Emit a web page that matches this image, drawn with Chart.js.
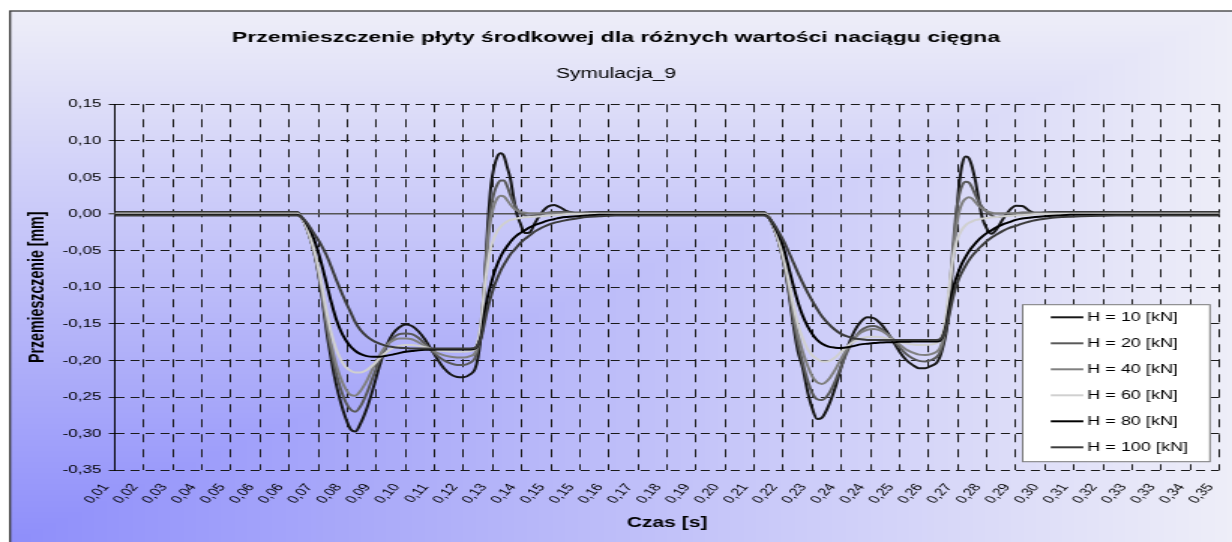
<!DOCTYPE html>
<html>
<head>
<meta charset="utf-8">
<script src="https://cdn.jsdelivr.net/npm/chart.js@4.4.1/dist/chart.umd.min.js"></script>
<style>
  html, body { margin: 0; padding: 0; background: #fff; }
  #myChart { display: block; width: 1232px !important; height: 542px !important; }
</style>
</head>
<body>
<!-- the original picture is a horizontally stretched Excel chart, so the canvas is drawn narrow and stretched by css -->
<canvas id="myChart" width="821" height="542" style="width:1232px;height:542px"></canvas>
<script>
const times = [
  0.010, 0.040, 0.060, 0.0665, 0.068, 0.0695, 0.071, 0.0725, 0.074, 0.0755,
  0.077, 0.0785, 0.080, 0.0815, 0.083, 0.0845, 0.086, 0.088, 0.090, 0.092,
  0.094, 0.096, 0.098, 0.100, 0.102, 0.104, 0.106, 0.108, 0.110, 0.112,
  0.114, 0.116, 0.118, 0.120, 0.1215, 0.1225, 0.1235, 0.1245, 0.1255, 0.1265,
  0.1275, 0.1285, 0.1295, 0.1305, 0.1315, 0.1325, 0.1335, 0.1345, 0.1355, 0.137,
  0.1385, 0.140, 0.142, 0.144, 0.146, 0.148, 0.150, 0.153, 0.156, 0.160,
  0.165, 0.175, 0.190, 0.203,
  0.211, 0.2125, 0.214, 0.2155, 0.217, 0.2185,
  0.220, 0.2215, 0.223, 0.2245, 0.226, 0.2275, 0.229, 0.231, 0.233, 0.235,
  0.237, 0.239, 0.241, 0.243, 0.245, 0.247, 0.249, 0.251, 0.253, 0.255,
  0.257, 0.259, 0.261, 0.263, 0.2645, 0.2655, 0.2665, 0.2675, 0.2685, 0.2695,
  0.2705, 0.2715, 0.2725, 0.2735, 0.2745, 0.2755, 0.2765, 0.2775, 0.2785, 0.280,
  0.2815, 0.283, 0.285, 0.287, 0.289, 0.291, 0.293, 0.295, 0.298, 0.302,
  0.306, 0.312, 0.320, 0.335, 0.352
]

const h10 = [
  0.003, 0.003, 0.003, 0.003, -0.006, -0.020, -0.040, -0.068, -0.108, -0.158,
  -0.198, -0.232, -0.258, -0.279, -0.294, -0.297, -0.287, -0.266, -0.238, -0.207,
  -0.181, -0.164, -0.155, -0.151, -0.153, -0.160, -0.171, -0.185, -0.199, -0.211,
  -0.219, -0.2225, -0.223, -0.219, -0.212, -0.195, -0.160, -0.095, -0.015, 0.040,
  0.065, 0.079, 0.083, 0.079, 0.064, 0.048, 0.022, 0.000, -0.012, -0.026,
  -0.025, -0.013, 0.001, 0.010, 0.0125, 0.009, 0.004, 0.001, 0.002, 0.003,
  0.003, 0.003, 0.003, 0.003,
  0.003, -0.004, -0.018, -0.037, -0.064, -0.101,
  -0.148, -0.187, -0.210, -0.242, -0.266, -0.280, -0.278, -0.262, -0.238, -0.208,
  -0.181, -0.160, -0.147, -0.141, -0.142, -0.149, -0.160, -0.174, -0.188, -0.199,
  -0.206, -0.2105, -0.2105, -0.207, -0.203, -0.195, -0.180, -0.160, -0.125, -0.065,
  -0.008, 0.042, 0.070, 0.0785, 0.076, 0.064, 0.045, 0.020, -0.003, -0.020,
  -0.027, -0.021, -0.007, 0.005, 0.0115, 0.011, 0.005, 0.001, 0.002, 0.003,
  0.003, 0.003, 0.003, 0.003, 0.003
]

const h20 = [
  0.002, 0.002, 0.002, 0.002, -0.006, -0.020, -0.040, -0.067, -0.105, -0.150,
  -0.187, -0.217, -0.240, -0.257, -0.267, -0.270, -0.263, -0.245, -0.222, -0.200,
  -0.182, -0.170, -0.164, -0.163, -0.164, -0.169, -0.177, -0.186, -0.194, -0.200,
  -0.204, -0.206, -0.206, -0.203, -0.197, -0.183, -0.150, -0.095, -0.030, 0.010,
  0.030, 0.041, 0.046, 0.046, 0.038, 0.026, 0.015, 0.007, 0.002, -0.002,
  -0.003, -0.002, 0.000, 0.002, 0.003, 0.003, 0.003, 0.002, 0.002, 0.002,
  0.002, 0.002, 0.002, 0.002,
  0.002, -0.004, -0.018, -0.037, -0.063, -0.098,
  -0.140, -0.176, -0.203, -0.227, -0.245, -0.253, -0.254, -0.246, -0.229, -0.207,
  -0.186, -0.170, -0.159, -0.154, -0.153, -0.156, -0.163, -0.172, -0.182, -0.191,
  -0.197, -0.2005, -0.2015, -0.199, -0.195, -0.189, -0.175, -0.150, -0.105, -0.048,
  0.000, 0.027, 0.040, 0.044, 0.043, 0.036, 0.026, 0.017, 0.010, 0.003,
  -0.002, -0.004, -0.003, -0.001, 0.001, 0.002, 0.002, 0.002, 0.002, 0.002,
  0.002, 0.002, 0.002, 0.002, 0.002
]

const h40 = [
  0.001, 0.001, 0.001, 0.001, -0.006, -0.020, -0.040, -0.066, -0.102, -0.143,
  -0.178, -0.205, -0.225, -0.239, -0.247, -0.248, -0.242, -0.228, -0.210, -0.193,
  -0.180, -0.173, -0.170, -0.170, -0.171, -0.175, -0.180, -0.185, -0.190, -0.193,
  -0.195, -0.196, -0.196, -0.194, -0.190, -0.176, -0.145, -0.095, -0.040, -0.005,
  0.013, 0.022, 0.025, 0.024, 0.019, 0.013, 0.008, 0.005, 0.003, 0.002,
  0.001, 0.001, 0.001, 0.001, 0.001, 0.001, 0.001, 0.001, 0.001, 0.001,
  0.001, 0.001, 0.001, 0.001,
  0.001, -0.004, -0.018, -0.036, -0.061, -0.094,
  -0.132, -0.164, -0.188, -0.207, -0.222, -0.230, -0.232, -0.226, -0.213, -0.197,
  -0.182, -0.170, -0.162, -0.158, -0.157, -0.159, -0.164, -0.171, -0.178, -0.185,
  -0.189, -0.192, -0.1925, -0.191, -0.188, -0.183, -0.170, -0.145, -0.105, -0.058,
  -0.020, 0.004, 0.016, 0.021, 0.023, 0.021, 0.016, 0.011, 0.008, 0.004,
  0.002, 0.001, 0.001, 0.001, 0.001, 0.001, 0.001, 0.001, 0.001, 0.001,
  0.001, 0.001, 0.001, 0.001, 0.001
]

const h60 = [
  0.000, 0.000, 0.000, 0.000, -0.006, -0.019, -0.038, -0.063, -0.096, -0.132,
  -0.162, -0.184, -0.199, -0.209, -0.214, -0.2165, -0.2165, -0.213, -0.206, -0.197,
  -0.189, -0.183, -0.180, -0.179, -0.179, -0.180, -0.182, -0.184, -0.186, -0.187,
  -0.188, -0.188, -0.188, -0.187, -0.184, -0.172, -0.145, -0.100, -0.068, -0.045,
  -0.032, -0.023, -0.017, -0.013, -0.010, -0.008, -0.007, -0.006, -0.005, -0.0045,
  -0.004, -0.0035, -0.003, -0.002, -0.0015, -0.001, 0.000, 0.000, 0.000, 0.000,
  0.000, 0.000, 0.000, 0.000,
  0.000, -0.004, -0.017, -0.035, -0.058, -0.089,
  -0.122, -0.150, -0.170, -0.184, -0.193, -0.198, -0.2015, -0.201, -0.196, -0.188,
  -0.180, -0.174, -0.170, -0.168, -0.1675, -0.168, -0.170, -0.172, -0.175, -0.177,
  -0.178, -0.179, -0.179, -0.178, -0.176, -0.172, -0.160, -0.135, -0.095, -0.062,
  -0.040, -0.028, -0.020, -0.015, -0.012, -0.010, -0.008, -0.0075, -0.0065, -0.0055,
  -0.0045, -0.004, -0.003, -0.0025, -0.002, -0.0015, -0.001, 0.000, 0.000, 0.000,
  0.000, 0.000, 0.000, 0.000, 0.000
]

const h80 = [
  -0.001, -0.001, -0.001, -0.001, -0.005, -0.014, -0.027, -0.045, -0.068, -0.094,
  -0.120, -0.143, -0.160, -0.172, -0.181, -0.187, -0.191, -0.194, -0.195, -0.195,
  -0.1935, -0.192, -0.190, -0.188, -0.187, -0.186, -0.1855, -0.1855, -0.185, -0.185,
  -0.185, -0.185, -0.185, -0.185, -0.184, -0.178, -0.165, -0.135, -0.112, -0.095,
  -0.080, -0.068, -0.058, -0.050, -0.044, -0.038, -0.033, -0.029, -0.026, -0.022,
  -0.018, -0.015, -0.012, -0.009, -0.007, -0.005, -0.004, -0.003, -0.002, -0.001,
  -0.001, -0.001, -0.001, -0.001,
  -0.001, -0.005, -0.015, -0.028, -0.045, -0.070,
  -0.096, -0.120, -0.139, -0.153, -0.164, -0.172, -0.177, -0.181, -0.1825, -0.183,
  -0.182, -0.180, -0.178, -0.177, -0.176, -0.1755, -0.175, -0.175, -0.1745, -0.1745,
  -0.174, -0.174, -0.174, -0.174, -0.174, -0.173, -0.166, -0.150, -0.125, -0.103,
  -0.088, -0.076, -0.066, -0.058, -0.051, -0.045, -0.040, -0.035, -0.031, -0.026,
  -0.022, -0.018, -0.014, -0.011, -0.008, -0.006, -0.005, -0.004, -0.003, -0.002,
  -0.001, -0.001, -0.001, -0.001, -0.001
]

const h100 = [
  -0.002, -0.002, -0.002, -0.002, -0.005, -0.012, -0.022, -0.032, -0.043, -0.056,
  -0.072, -0.089, -0.105, -0.120, -0.134, -0.148, -0.158, -0.167, -0.173, -0.177,
  -0.180, -0.1815, -0.1825, -0.183, -0.1835, -0.1835, -0.1835, -0.1835, -0.1835, -0.1835,
  -0.1835, -0.1835, -0.1835, -0.1835, -0.183, -0.178, -0.168, -0.148, -0.128, -0.112,
  -0.098, -0.087, -0.077, -0.069, -0.062, -0.055, -0.050, -0.045, -0.040, -0.034,
  -0.029, -0.024, -0.019, -0.015, -0.012, -0.010, -0.008, -0.006, -0.004, -0.003,
  -0.002, -0.002, -0.002, -0.002,
  -0.002, -0.005, -0.013, -0.024, -0.036, -0.050,
  -0.065, -0.080, -0.094, -0.107, -0.119, -0.130, -0.140, -0.150, -0.158, -0.164,
  -0.1675, -0.170, -0.171, -0.172, -0.172, -0.172, -0.172, -0.172, -0.172, -0.172,
  -0.172, -0.172, -0.172, -0.172, -0.172, -0.171, -0.166, -0.155, -0.135, -0.115,
  -0.099, -0.087, -0.078, -0.070, -0.063, -0.057, -0.052, -0.047, -0.043, -0.037,
  -0.032, -0.028, -0.023, -0.019, -0.016, -0.013, -0.0105, -0.0085, -0.0065, -0.0045,
  -0.0035, -0.0025, -0.002, -0.002, -0.002
]

const seriesNames = ['H = 10 [kN]', 'H = 20 [kN]', 'H = 40 [kN]', 'H = 60 [kN]', 'H = 80 [kN]', 'H = 100 [kN]']
const seriesColors = ['#181818', '#595959', '#808080', '#d0d0d0', '#000000', '#3c3c3c']
const seriesValues = [h10, h20, h40, h60, h80, h100]

const xTickValues = [
  0.010, 0.019, 0.028, 0.037, 0.046, 0.055, 0.064, 0.073, 0.082, 0.091,
  0.100, 0.109, 0.118, 0.127, 0.136, 0.145, 0.154, 0.163, 0.172, 0.181,
  0.190, 0.199, 0.208, 0.217, 0.226, 0.235, 0.244, 0.253, 0.262, 0.271,
  0.280, 0.289, 0.298, 0.307, 0.316, 0.325, 0.334, 0.343, 0.352
]
const xTickLabels = [
  '0,01', '0,02', '0,03', '0,04', '0,05', '0,06', '0,06', '0,07', '0,08', '0,09',
  '0,10', '0,11', '0,12', '0,13', '0,14', '0,15', '0,15', '0,16', '0,17', '0,18',
  '0,19', '0,20', '0,21', '0,22', '0,23', '0,24', '0,24', '0,25', '0,26', '0,27',
  '0,28', '0,29', '0,30', '0,31', '0,32', '0,33', '0,33', '0,34', '0,35'
]
const yTickValues = [-0.35, -0.30, -0.25, -0.20, -0.15, -0.10, -0.05, 0, 0.05, 0.10, 0.15]
const yTickLabels = ['-0,35', '-0,30', '-0,25', '-0,20', '-0,15', '-0,10', '-0,05', '0,00', '0,05', '0,10', '0,15']

const FONT = '"Liberation Sans", Arial, sans-serif'

// background: corner gradient from bottom-left, plus the thin frame
let bgImage = null
const backgroundPlugin = {
  id: 'cornerBackground',
  beforeDraw(chart) {
    const {ctx, width, height} = chart
    const x0 = 6.7, y0 = 11
    if (!bgImage) {
      bgImage = document.createElement('canvas')
      bgImage.width = width
      bgImage.height = height
      const octx = bgImage.getContext('2d')
      const img = octx.createImageData(width, height)
      const c0 = [142, 142, 250], c1 = [238, 238, 248]
      for (let y = 0; y < height; y++) {
        for (let x = 0; x < width; x++) {
          const p = (y * width + x) * 4
          if (x < x0 || y < y0) {
            img.data[p] = img.data[p + 1] = img.data[p + 2] = 255
          } else {
            const t = Math.min(1, Math.max((x - x0) / (width - x0), (height - y) / (height - y0)))
            img.data[p] = c0[0] + (c1[0] - c0[0]) * t
            img.data[p + 1] = c0[1] + (c1[1] - c0[1]) * t
            img.data[p + 2] = c0[2] + (c1[2] - c0[2]) * t
          }
          img.data[p + 3] = 255
        }
      }
      octx.putImageData(img, 0, 0)
    }
    ctx.save()
    ctx.drawImage(bgImage, 0, 0)
    ctx.strokeStyle = '#3a3a3a'
    ctx.lineWidth = 1.3
    ctx.strokeRect(x0, y0, width + 20, height + 20)
    ctx.restore()
  }
}

// legend box sitting inside the plot, bottom right
const boxLegendPlugin = {
  id: 'boxLegend',
  afterDraw(chart) {
    const {ctx, chartArea} = chart
    const w = 124.8, h = 157
    const right = chartArea.right - 6.2
    const bottom = chartArea.bottom - 8.6
    const left = right - w, top = bottom - h
    ctx.save()
    ctx.fillStyle = '#ffffff'
    ctx.fillRect(left, top, w, h)
    ctx.strokeStyle = '#7a7a7a'
    ctx.lineWidth = 1
    ctx.strokeRect(left, top, w, h)
    ctx.font = '12px ' + FONT
    ctx.textBaseline = 'middle'
    ctx.textAlign = 'left'
    chart.data.datasets.forEach((ds, i) => {
      const y = top + 12.6 + i * 26
      ctx.strokeStyle = ds.borderColor
      ctx.lineWidth = 2
      ctx.beginPath()
      ctx.moveTo(left + 18.7, y)
      ctx.lineTo(left + 40.4, y)
      ctx.stroke()
      ctx.fillStyle = '#000'
      ctx.fillText(ds.label, left + 43.1, y)
    })
    ctx.restore()
  }
}

function isZero(c) {
  return c.tick && Math.abs(c.tick.value) < 1e-9
}

const datasets = seriesValues.map((values, i) => ({
  label: seriesNames[i],
  data: values,
  borderColor: seriesColors[i],
  backgroundColor: seriesColors[i],
  borderWidth: 2,
  pointRadius: 0,
  cubicInterpolationMode: 'monotone',
  fill: false,
  order: seriesValues.length - i
}))

Chart.defaults.color = '#000'
Chart.defaults.font.family = FONT

const ctx = document.getElementById('myChart')
new Chart(ctx, {
  type: 'line',
  data: {
    labels: times,
    datasets
  },
  options: {
    responsive: false,
    animation: false,
    devicePixelRatio: 1,
    layout: { padding: { top: 20, left: 8.5, right: 8.5, bottom: 0 } },
    plugins: {
      legend: { display: false },
      tooltip: { enabled: false },
      title: {
        display: true,
        text: 'Przemieszczenie płyty środkowej dla różnych wartości naciągu cięgna',
        color: '#000',
        font: { size: 15.3, weight: 'bold', family: FONT },
        padding: { top: 8.5, bottom: 10 }
      },
      subtitle: {
        display: true,
        text: 'Symulacja_9',
        color: '#000',
        font: { size: 14, weight: 'normal', family: FONT },
        padding: { top: 9.2, bottom: 21.4 }
      }
    },
    scales: {
      x: {
        type: 'linear',
        min: 0.010,
        max: 0.352,
        afterBuildTicks: scale => { scale.ticks = xTickValues.map(v => ({ value: v })) },
        afterFit: scale => {
          scale.height = 71.7
          scale.paddingLeft = 0
          scale.paddingRight = 0
        },
        ticks: {
          autoSkip: false,
          minRotation: 55,
          maxRotation: 55,
          padding: 11,
          labelOffset: -6,
          font: { size: 10.8 },
          callback: (v, i) => xTickLabels[i]
        },
        grid: {
          color: '#1a1a1a',
          lineWidth: 1,
          drawTicks: false
        },
        border: { display: false, dash: [8, 7] },
        title: {
          display: true,
          text: 'Czas [s]',
          font: { size: 14, weight: 'bold' },
          padding: { top: 0, bottom: 10 }
        }
      },
      y: {
        min: -0.35,
        max: 0.15,
        afterBuildTicks: scale => { scale.ticks = yTickValues.map(v => ({ value: v })) },
        afterFit: scale => { scale.width = 68 },
        ticks: {
          padding: 5,
          font: { size: 11.3 },
          callback: (v, i) => yTickLabels[i]
        },
        grid: {
          color: c => isZero(c) ? '#555' : '#1a1a1a',
          lineWidth: c => isZero(c) ? 1.4 : 1,
          tickLength: 4
        },
        border: {
          display: true,
          color: '#000',
          width: 1,
          dash: c => isZero(c) ? [] : [6, 4]
        },
        title: {
          display: true,
          text: 'Przemieszczenie [mm]',
          font: { size: 14.2, weight: 'bold' },
          padding: { top: 8.5, bottom: 0 }
        }
      }
    }
  },
  plugins: [backgroundPlugin, boxLegendPlugin]
})
</script>
</body>
</html>
